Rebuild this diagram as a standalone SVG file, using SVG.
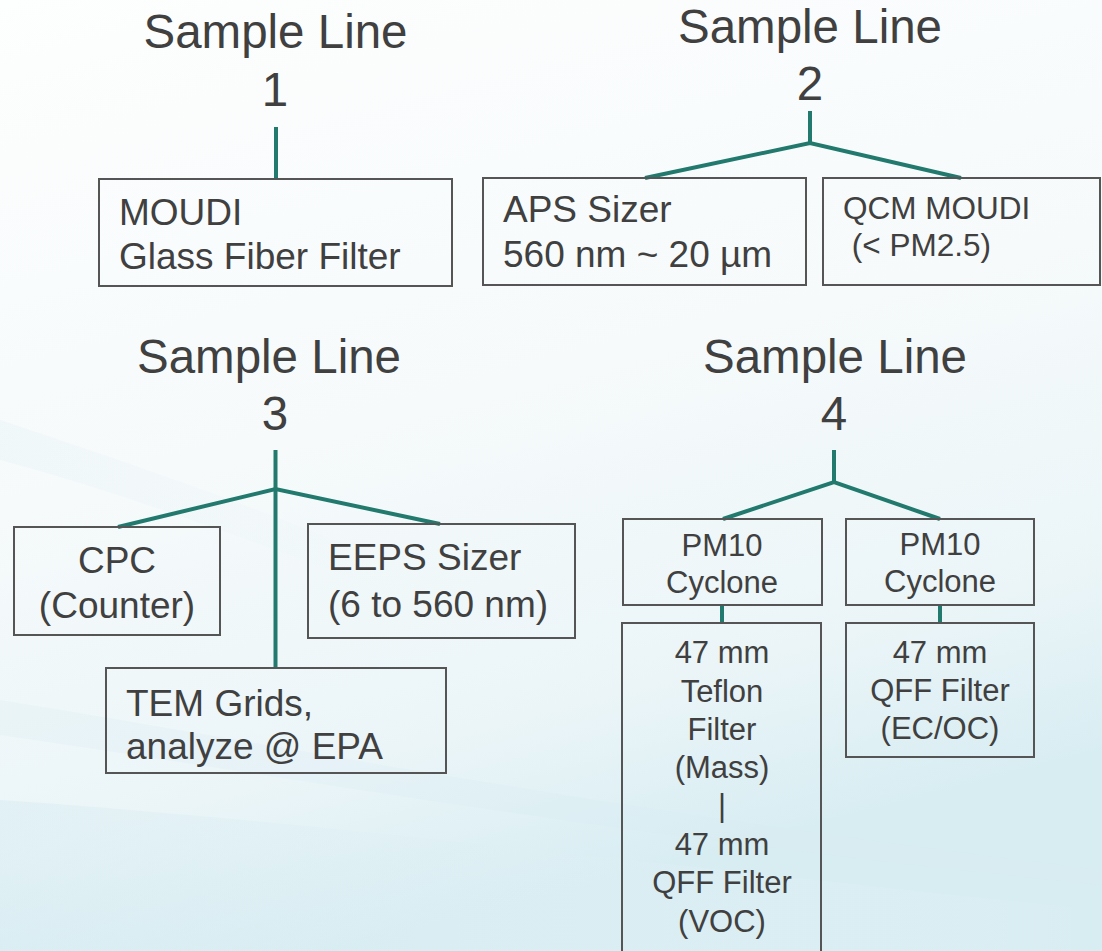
<svg xmlns="http://www.w3.org/2000/svg" width="1102" height="951" viewBox="0 0 1102 951">
<defs>
<linearGradient id="bg" x1="0" y1="0" x2="0.3" y2="1">
<stop offset="0" stop-color="#fdfefe"/>
<stop offset="0.5" stop-color="#f6fafb"/>
<stop offset="0.82" stop-color="#ebf5f8"/>
<stop offset="1" stop-color="#d8edf2"/>
</linearGradient>
<linearGradient id="wave" x1="0" y1="0" x2="1" y2="0">
<stop offset="0" stop-color="#cfe8ef" stop-opacity="0.6"/>
<stop offset="0.6" stop-color="#e3f1f5" stop-opacity="0.3"/>
<stop offset="1" stop-color="#ffffff" stop-opacity="0"/>
</linearGradient>
<style>
text{font-family:'Liberation Sans',Arial,Helvetica,sans-serif;fill:#404040}
.title{font-size:47.5px;text-anchor:middle}
.lg{font-size:37px}
.md{font-size:31px}
.sm{font-size:31.5px}
.c{text-anchor:middle}
.box{fill:none;stroke:#555555;stroke-width:2}
.con{stroke:#217a6d;stroke-width:4;fill:none;stroke-linejoin:miter}
</style>
</defs>
<rect width="1102" height="951" fill="url(#bg)"/>
<path d="M0 420 C 150 470 300 520 520 620 L 520 640 C 300 560 150 500 0 460 Z" fill="url(#wave)" opacity="0.3"/>
<path d="M0 800 C 300 820 700 870 1102 910 L 1102 951 L 0 951 Z" fill="url(#wave)" opacity="0.6"/>
<path d="M0 700 C 250 740 600 810 1102 870 L 1102 885 C 600 835 250 770 0 735 Z" fill="#d6ecf2" opacity="0.25"/>

<g font-family="Liberation Sans, Arial, sans-serif">
<g id="title1"><text class="title" x="275.5" y="48">Sample Line</text><text class="title" x="275" y="106">1</text></g>
<g id="title2"><text class="title" x="810" y="43">Sample Line</text><text class="title" x="810" y="100">2</text></g>
<g id="title3"><text class="title" x="269" y="373">Sample Line</text><text class="title" x="275" y="430">3</text></g>
<g id="title4"><text class="title" x="835" y="373">Sample Line</text><text class="title" x="834" y="430">4</text></g>

<g id="connectors">
<line class="con" x1="276" y1="127" x2="276" y2="179"/>
<polyline class="con" points="810,111 810,143"/>
<polyline class="con" points="645,178 810,143 961,178"/>
<line class="con" x1="275.5" y1="450" x2="275.5" y2="668"/>
<polyline class="con" points="118,527 275.5,489 440,524"/>
<line class="con" x1="834" y1="450" x2="834" y2="482"/>
<polyline class="con" points="723,519 834,482 940,519"/>
<line class="con" x1="722" y1="605" x2="722" y2="623"/>
<line class="con" x1="940" y1="605" x2="940" y2="623"/>
</g>

<g id="moudi"><rect class="box" x="99" y="179" width="353" height="107"/>
<text class="lg" x="119" y="225">MOUDI</text><text class="lg" x="119" y="269">Glass Fiber Filter</text></g>

<g id="aps"><rect class="box" x="483" y="178" width="323" height="107"/>
<text class="lg" x="503" y="222">APS Sizer</text><text class="lg" x="503" y="267">560 nm ~ 20 µm</text></g>

<g id="qcm"><rect class="box" x="823" y="178" width="277" height="107"/>
<text class="sm" x="843" y="219">QCM MOUDI</text><text class="sm" x="843" y="256" xml:space="preserve"> (&lt; PM2.5)</text></g>

<g id="cpc"><rect class="box" x="14" y="527" width="206" height="108"/>
<text class="lg c" x="117" y="573">CPC</text><text class="lg c" x="117" y="618">(Counter)</text></g>

<g id="eeps"><rect class="box" x="308" y="524" width="267" height="114"/>
<text class="lg" x="328" y="570">EEPS Sizer</text><text class="lg" x="328" y="617">(6 to 560 nm)</text></g>

<g id="tem"><rect class="box" x="106" y="668" width="340" height="105"/>
<text class="lg" x="126" y="716">TEM Grids,</text><text class="lg" x="126" y="759">analyze @ EPA</text></g>

<g id="pm10a"><rect class="box" x="623" y="519" width="199" height="86"/>
<text class="md c" x="722" y="556">PM10</text><text class="md c" x="722" y="593">Cyclone</text></g>

<g id="pm10b"><rect class="box" x="846" y="519" width="188" height="86"/>
<text class="md c" x="940" y="555">PM10</text><text class="md c" x="940" y="592">Cyclone</text></g>

<g id="teflon"><rect class="box" x="622" y="623" width="199" height="340"/>
<text class="md c" x="722" y="663">47 mm</text>
<text class="md c" x="722" y="702">Teflon</text>
<text class="md c" x="722" y="740">Filter</text>
<text class="md c" x="722" y="778">(Mass)</text>
<text class="md c" x="722" y="816">|</text>
<text class="md c" x="722" y="855">47 mm</text>
<text class="md c" x="722" y="893">QFF Filter</text>
<text class="md c" x="722" y="932">(VOC)</text></g>

<g id="qff"><rect class="box" x="846" y="623" width="188" height="134"/>
<text class="md c" x="940" y="663">47 mm</text><text class="md c" x="940" y="701">QFF Filter</text><text class="md c" x="940" y="739">(EC/OC)</text></g>
</g>
</svg>
